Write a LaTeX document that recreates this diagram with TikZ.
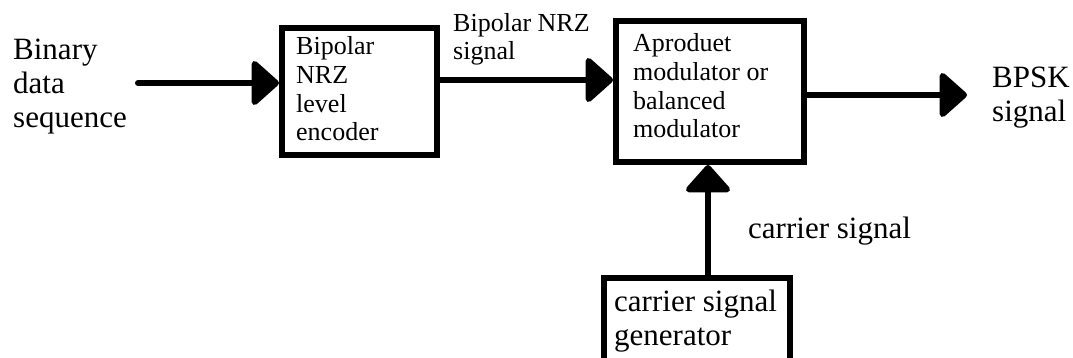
\documentclass[tikz,border=0pt]{standalone}
\usepackage{fontspec}
\setmainfont{Liberation Serif}
\usetikzlibrary{arrows.meta}
\newcommand\bigtxt{\fontsize{31}{34}\selectfont}
\newcommand\smalltxt{\fontsize{26}{28.7}\selectfont}
\tikzset{
  blockbox/.style={draw, line width=6pt, inner sep=0pt, fill=none},
  lbl/.style={inner sep=0pt, anchor=base west, align=left},
  bigl/.style={lbl, font=\bigtxt},
  smalll/.style={lbl, font=\smalltxt},
  arr/.style={line width=6pt, -{Triangle[length=29pt,width=50pt,round]}}
}
\begin{document}
\begin{tikzpicture}[x=1pt,y=-1pt]
\clip (0,0) rectangle (1073,358);
\fill[white] (0,0) rectangle (1073,358);
% boxes
\node[blockbox, minimum width=155pt, minimum height=127pt] (enc) at (359.5,91.5) {};
\node[blockbox, minimum width=188pt, minimum height=141pt] (mod) at (710,91.5) {};
\node[blockbox, minimum width=186pt, minimum height=104pt] (gen) at (697,330) {};
% texts (anchored at the baseline of their last line)
\node[bigl] (tin) at (13,128) {Binary\\data\\sequence};
\node[smalll] (tenc) at (296,141) {Bipolar\\NRZ\\level\\encoder};
\node[smalll] (tsig) at (453,60) {Bipolar NRZ\\signal};
\node[smalll] (tmod) at (633,138) {Aproduet\\modulator or\\balanced\\modulator};
\node[bigl] (tout) at (992,122) {BPSK\\signal};
\node[bigl] (tcar) at (748,238) {carrier signal};
\node[bigl] (tgen) at (614,345) {carrier signal\\generator};
% connectors
\coordinate (in) at (138,83);
\draw[arr, line cap=round] (in) -- (in -| enc.west);
\coordinate (m1) at (enc.east |- 0,80);
\draw[arr] (m1) -- (m1 -| mod.west);
\coordinate (m2) at (mod.east |- 0,95);
\coordinate (out) at (967,95);
\draw[arr] (m2) -- (out);
\coordinate (v) at (708,0);
\draw[arr] (v |- gen.north) -- (v |- mod.south);
\end{tikzpicture}
\end{document}
